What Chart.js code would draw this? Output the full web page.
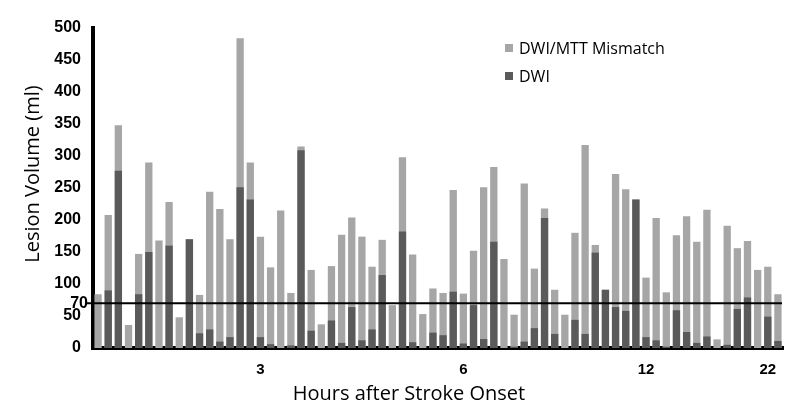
<!DOCTYPE html>
<html>
<head>
<meta charset="utf-8">
<script src="https://cdn.jsdelivr.net/npm/chart.js@4.4.1/dist/chart.umd.min.js"></script>
<style>
  html, body { margin: 0; padding: 0; background: #fff; }
  #wrap { width: 800px; height: 419px; position: relative; }
</style>
</head>
<body>
<div id="wrap"><canvas id="c" width="800" height="419"></canvas></div>
<script>
// ---- data ----
// top of the light bar (DWI/MTT mismatch outline), per patient, ml
const mismatchTotal = [84, 208, 348, 36, 147, 290, 168, 228, 48, 170,
  83, 244, 217, 170, 484, 290, 174, 126, 215, 86,
  315, 122, 37, 128, 177, 204, 174, 127, 169, 67,
  298, 146, 53, 93, 86, 247, 85, 152, 251, 283,
  139, 52, 257, 124, 218, 91, 52, 180, 317, 161,
  91, 272, 248, 232, 110, 203, 87, 176, 206, 166,
  216, 13.5, 191, 156, 167, 122, 127, 84];
// DWI lesion volume, per patient, ml
const dwiVolume = [0, 90, 277, 0, 84, 150, 0, 160, 0, 170,
  23, 29, 10, 17, 251, 232, 17, 6, 0, 4,
  309, 27, 0, 43, 8, 64, 12, 29, 114, 0,
  182, 9, 0, 24, 20, 88, 7, 67, 14, 166,
  0, 2, 10, 31, 203, 22, 0, 44, 22, 149,
  91, 64, 58, 232, 17, 12, 2, 59, 25, 8,
  18, 0, 5, 61, 79, 0, 49, 11];
// hours-after-onset labels shown under certain patients (index -> label)
const hourTickIndex = [16, 36, 54, 66];
const hourTickLabel = ['3', '6', '12', '22'];
const yTickValues = [0, 50, 100, 150, 200, 250, 300, 350, 400, 450, 500];
const thresholdValue = 70;
const seriesNames = ['DWI/MTT Mismatch', 'DWI'];

const categories = mismatchTotal.map((_, i) => {
  const k = hourTickIndex.indexOf(i);
  return k >= 0 ? hourTickLabel[k] : '';
});

const LIGHT = '#a6a6a6';
const DARK = '#5a5a5a';
const TITLE_FONT = '"Open Sans", sans-serif';
const TICK_FONT = '"Liberation Sans", Arial, sans-serif';

const overlay = {
  id: 'overlay',
  afterDatasetsDraw(chart) {
    const ctx = chart.ctx;
    const y = chart.scales.y;
    const area = chart.chartArea;
    const py = y.getPixelForValue(thresholdValue);
    ctx.save();
    // threshold line
    ctx.strokeStyle = '#000';
    ctx.lineWidth = 2;
    ctx.beginPath();
    ctx.moveTo(87, py);
    ctx.lineTo(area.right - 1, py);
    ctx.stroke();
    // threshold label
    ctx.fillStyle = '#000';
    ctx.font = 'bold 16px ' + TICK_FONT;
    ctx.textAlign = 'right';
    ctx.textBaseline = 'middle';
    ctx.fillText(String(thresholdValue), 88, py);
    // legend
    const cols = [LIGHT, DARK];
    ctx.font = '16px ' + TITLE_FONT;
    ctx.textAlign = 'left';
    seriesNames.forEach((n, i) => {
      const cy = 48 + i * 28;
      ctx.fillStyle = cols[i];
      ctx.fillRect(505, cy - 4, 8, 8);
      ctx.fillStyle = '#000';
      ctx.fillText(n, 519, cy + 1);
    });
    // axis titles
    ctx.font = '20px ' + TITLE_FONT;
    ctx.textAlign = 'center';
    ctx.fillStyle = '#000';
    ctx.fillText('Hours after Stroke Onset', 409, 394);
    ctx.translate(33, 174);
    ctx.rotate(-Math.PI / 2);
    ctx.fillText('Lesion Volume (ml)', 0, 0);
    ctx.restore();
  }
};

new Chart(document.getElementById('c'), {
  type: 'bar',
  data: {
    labels: categories,
    datasets: [
      { label: seriesNames[1], data: dwiVolume, backgroundColor: DARK, order: 1,
        categoryPercentage: 1, barPercentage: 0.72 },
      { label: seriesNames[0], data: mismatchTotal, backgroundColor: LIGHT, order: 2,
        categoryPercentage: 1, barPercentage: 0.72 }
    ]
  },
  options: {
    responsive: false,
    animation: false,
    devicePixelRatio: 1,
    layout: { padding: { left: 0, right: 17, top: 28, bottom: 0 } },
    plugins: { legend: { display: false }, tooltip: { enabled: false } },
    scales: {
      x: {
        stacked: true,
        grid: { display: false, drawTicks: false },
        border: { display: true, color: '#000', width: 4 },
        ticks: {
          autoSkip: false, maxRotation: 0, minRotation: 0, padding: 13,
          color: '#000',
          font: { family: TICK_FONT, size: 15, weight: 'bold' }
        },
        afterFit(s) { s.height = 71; }
      },
      y: {
        stacked: false,
        min: 0, max: 500,
        grid: { display: false, drawTicks: false },
        border: { display: true, color: '#000', width: 4 },
        afterBuildTicks(s) { s.ticks = yTickValues.map(v => ({ value: v })); },
        ticks: {
          autoSkip: false, padding: 12, color: '#000',
          font: { family: TICK_FONT, size: 16, weight: 'bold' }
        },
        afterFit(s) { s.width = 93; }
      }
    }
  },
  plugins: [overlay]
});
</script>
</body>
</html>
